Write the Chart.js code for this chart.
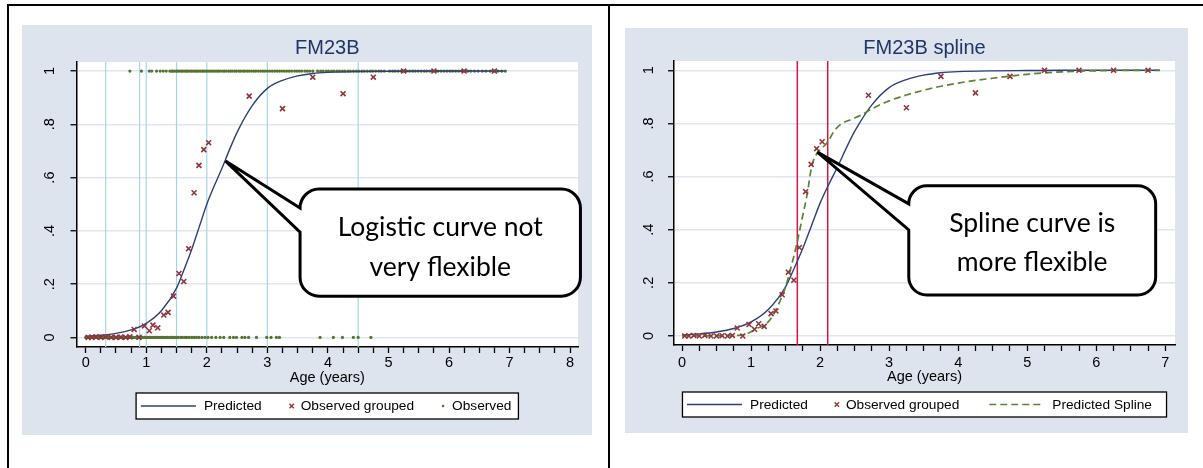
<!DOCTYPE html>
<html>
<head>
<meta charset="utf-8">
<script src="https://cdn.jsdelivr.net/npm/chart.js@4.4.1/dist/chart.umd.min.js"></script>
<style>
  html, body { margin: 0; padding: 0; background: #ffffff; width: 1203px; height: 468px; overflow: hidden; }
  .rule { position: absolute; background: #000000; }
  canvas { position: absolute; }
</style>
</head>
<body>
<div class="rule" style="left:7px;top:4px;width:1196px;height:2px"></div>
<div class="rule" style="left:7px;top:4px;width:2px;height:464px"></div>
<div class="rule" style="left:608px;top:4px;width:2px;height:464px"></div>
<canvas id="fm23b" width="570" height="410" style="left:22px;top:25px"></canvas>
<canvas id="fm23bSpline" width="563" height="405" style="left:625px;top:28px"></canvas>
<script>
// ---- data -------------------------------------------------------------
// Predicted probability from the logistic model, by age (years)
const predAges  = [0, 0.25, 0.5, 0.75, 1.0, 1.25, 1.5, 1.625, 1.75, 1.875, 2.0, 2.125, 2.25, 2.375, 2.5, 2.75, 3.0, 3.25, 3.5, 3.75, 4.0, 4.5, 5.0, 5.5, 6.0, 6.5, 6.92];
const predProbs = [0.004, 0.008, 0.015, 0.028, 0.053, 0.10, 0.185, 0.255, 0.33, 0.415, 0.50, 0.57, 0.635, 0.705, 0.77, 0.87, 0.935, 0.965, 0.982, 0.991, 0.995, 0.998, 0.999, 1.0, 1.0, 1.0, 1.0];

// Predicted probability from the spline model
const splineAges  = [0, 0.3, 0.6, 0.8, 0.9, 1.0, 1.1, 1.2, 1.3, 1.4, 1.5, 1.6, 1.67, 1.74, 1.81, 1.88, 1.95, 2.02, 2.11, 2.2, 2.3, 2.45, 2.6, 2.75, 3.0, 3.25, 3.5, 3.75, 4.0, 4.25, 4.5, 4.75, 5.0, 5.25, 5.5, 5.75, 6.0, 6.5, 6.92];
const splineProbs = [0, 0, 0.001, 0.002, 0.005, 0.016, 0.03, 0.042, 0.07, 0.12, 0.185, 0.28, 0.355, 0.443, 0.53, 0.64, 0.685, 0.705, 0.73, 0.77, 0.797, 0.815, 0.832, 0.855, 0.885, 0.907, 0.925, 0.94, 0.952, 0.962, 0.97, 0.978, 0.985, 0.99, 0.994, 0.997, 0.998, 1.0, 1.0];

// Observed proportion within age groups
const groupedAges   = [0.04, 0.10, 0.17, 0.25, 0.33, 0.42, 0.50, 0.58, 0.66, 0.73, 0.80, 0.88, 0.97, 1.05, 1.11, 1.19, 1.29, 1.36, 1.45, 1.54, 1.62, 1.70, 1.79, 1.87, 1.95, 2.03, 2.70, 3.25, 3.75, 4.25, 4.75, 5.25, 5.75, 6.25, 6.75];
const groupedShares = [0, 0, 0.002, 0, 0.002, 0, 0, 0.001, 0, 0.002, 0.030, 0, 0.043, 0.025, 0.046, 0.036, 0.084, 0.094, 0.155, 0.240, 0.210, 0.333, 0.543, 0.646, 0.705, 0.731, 0.906, 0.859, 0.977, 0.915, 0.977, 1, 1, 1, 1];

// Individual observations: ages with outcome 0 and with outcome 1
const obsAgesZero = [0.00, 0.02, 0.04, 0.06, 0.08, 0.10, 0.12, 0.14, 0.16, 0.18, 0.20, 0.22, 0.24, 0.26, 0.28, 0.30, 0.33, 0.35, 0.37, 0.39, 0.41, 0.44, 0.46, 0.48, 0.50, 0.53, 0.55, 0.57, 0.60, 0.62, 0.64, 0.67, 0.69, 0.72, 0.74, 0.77, 0.79, 0.82, 0.84, 0.87, 0.89, 0.92, 0.94, 0.97, 0.99, 1.02, 1.05, 1.07, 1.10, 1.13, 1.15, 1.18, 1.21, 1.24, 1.26, 1.29, 1.32, 1.35, 1.38, 1.41, 1.44, 1.47, 1.50, 1.53, 1.57, 1.60, 1.64, 1.67, 1.71, 1.75, 1.79, 1.83, 1.87, 1.92, 1.97, 2.02, 2.08, 2.15, 2.22, 2.28, 2.38, 2.44, 2.49, 2.58, 2.63, 2.69, 2.82, 2.99, 3.06, 3.15, 3.20, 3.87, 4.09, 4.24, 4.42, 4.50, 4.71];
const obsAgesOne  = [0.73, 0.92, 1.05, 1.09, 1.17, 1.23, 1.28, 1.33, 1.39, 1.42, 1.44, 1.47, 1.50, 1.52, 1.55, 1.58, 1.60, 1.63, 1.66, 1.68, 1.71, 1.74, 1.76, 1.79, 1.82, 1.84, 1.87, 1.90, 1.93, 1.95, 1.98, 2.01, 2.04, 2.07, 2.10, 2.13, 2.16, 2.19, 2.22, 2.26, 2.29, 2.32, 2.36, 2.39, 2.42, 2.46, 2.49, 2.53, 2.56, 2.60, 2.63, 2.67, 2.70, 2.74, 2.78, 2.81, 2.85, 2.89, 2.93, 2.96, 3.00, 3.04, 3.08, 3.12, 3.16, 3.20, 3.24, 3.28, 3.32, 3.36, 3.40, 3.45, 3.49, 3.53, 3.57, 3.62, 3.66, 3.70, 3.75, 3.83, 3.88, 3.92, 3.97, 4.01, 4.06, 4.10, 4.15, 4.19, 4.24, 4.28, 4.33, 4.37, 4.42, 4.47, 4.51, 4.56, 4.60, 4.65, 4.70, 4.74, 4.79, 4.84, 4.88, 4.93, 5.02, 5.07, 5.11, 5.16, 5.21, 5.25, 5.30, 5.35, 5.40, 5.44, 5.49, 5.54, 5.59, 5.63, 5.68, 5.73, 5.78, 5.82, 5.87, 5.92, 5.97, 6.02, 6.06, 6.11, 6.16, 6.21, 6.26, 6.31, 6.36, 6.42, 6.48, 6.55, 6.61, 6.68, 6.74, 6.81, 6.87, 6.93];

// Reference lines: age-group cut points and spline knots
const groupCutAges = [0.33, 0.89, 1.0, 1.5, 2.0, 3.0, 4.5];
const splineKnots  = [1.67, 2.11];

// Tick labels
const probTickValues = [0, 0.2, 0.4, 0.6, 0.8, 1];
const probTickLabels = ['0', '.2', '.4', '.6', '.8', '1'];
const ageLabelsLogistic = ['0', '1', '2', '3', '4', '5', '6', '7', '8'];
const ageLabelsSpline   = ['0', '1', '2', '3', '4', '5', '6', '7'];

// ---- styling ---------------------------------------------------------
const SANS = '"Liberation Sans", Arial, sans-serif';
const NOTE_FONT = 'Lato, "Open Sans", sans-serif';
const NAVY = '#2e3f78';
const MAROON = '#90353b';
const FOREST = '#55752f';
const SPLINE_GREEN = '#5e8236';
const GRID = '#dfe6ef';
const REGION = '#dee4ee';

const pts = (xs, ys) => xs.map((x, i) => ({ x: x, y: ys[i] }));

// ---- plugins ----------------------------------------------------------
const panelBackdrop = {
  id: 'panelBackdrop',
  beforeDraw(chart) {
    const { ctx, width, height, chartArea: a } = chart;
    ctx.save();
    ctx.fillStyle = REGION;
    ctx.fillRect(0, 0, width, height);
    ctx.fillStyle = '#ffffff';
    ctx.fillRect(a.left, a.top, a.right - a.left, a.bottom - a.top);
    ctx.restore();
  }
};

const ageRefLines = {
  id: 'ageRefLines',
  beforeDatasetsDraw(chart, args, o) {
    if (!o.ages) return;
    const { ctx, chartArea: a } = chart;
    const xs = chart.scales.x;
    ctx.save();
    ctx.strokeStyle = o.color;
    ctx.lineWidth = o.width;
    o.ages.forEach(age => {
      const px = xs.getPixelForValue(age);
      ctx.beginPath();
      ctx.moveTo(px, a.top);
      ctx.lineTo(px, a.bottom);
      ctx.stroke();
    });
    ctx.restore();
  }
};

const calloutNote = {
  id: 'calloutNote',
  afterDraw(chart, args, o) {
    if (!o.lines) return;
    const { ctx } = chart;
    const xs = chart.scales.x, ys = chart.scales.y;
    const L = xs.getPixelForValue(o.box[0]), R = xs.getPixelForValue(o.box[1]);
    const T = ys.getPixelForValue(o.box[2]), B = ys.getPixelForValue(o.box[3]);
    const tx = xs.getPixelForValue(o.tip[0]), ty = ys.getPixelForValue(o.tip[1]);
    const w1 = ys.getPixelForValue(o.wedge[0]), w2 = ys.getPixelForValue(o.wedge[1]);
    const r = o.radius;
    ctx.save();
    ctx.beginPath();
    ctx.moveTo(L + r, T);
    ctx.lineTo(R - r, T);
    ctx.arcTo(R, T, R, T + r, r);
    ctx.lineTo(R, B - r);
    ctx.arcTo(R, B, R - r, B, r);
    ctx.lineTo(L + r, B);
    ctx.arcTo(L, B, L, B - r, r);
    ctx.lineTo(L, w2);
    ctx.lineTo(tx, ty);
    ctx.lineTo(L, w1);
    ctx.lineTo(L, T + r);
    ctx.arcTo(L, T, L + r, T, r);
    ctx.closePath();
    ctx.fillStyle = '#ffffff';
    ctx.fill();
    ctx.lineWidth = 3;
    ctx.lineJoin = 'miter';
    ctx.miterLimit = 4;
    ctx.strokeStyle = '#000000';
    ctx.stroke();
    ctx.fillStyle = '#000000';
    ctx.font = o.fontSize + 'px ' + NOTE_FONT;
    ctx.textAlign = 'center';
    ctx.textBaseline = 'middle';
    const cx = (L + R) / 2;
    o.lines.forEach((line, i) => ctx.fillText(line, cx, ys.getPixelForValue(o.lineY[i])));
    ctx.restore();
  }
};

const keyLegend = {
  id: 'keyLegend',
  afterDraw(chart, args, o) {
    if (!o.items) return;
    const { ctx, chartArea: a } = chart;
    ctx.save();
    ctx.font = o.fontSize + 'px ' + SANS;
    const parts = o.items.map((it, i) => {
      const ds = chart.data.datasets[it.dataset];
      const lineKey = it.kind === 'line' || it.kind === 'dash';
      return {
        it, ds,
        gapBefore: i === 0 ? 0 : it.gap,
        keyW: lineKey ? 55 : 10,
        textGap: lineKey ? 8 : 4,
        textW: ctx.measureText(ds.label).width
      };
    });
    let total = o.padLeft + o.padRight;
    parts.forEach(p => { total += p.gapBefore + p.keyW + p.textGap + p.textW; });
    const cxArea = (a.left + a.right) / 2;
    const left = cxArea - total / 2;
    const top = a.bottom + o.offset;
    const cy = top + o.height / 2;
    ctx.fillStyle = '#ffffff';
    ctx.fillRect(left, top, total, o.height);
    ctx.strokeStyle = '#000000';
    ctx.lineWidth = 1.3;
    ctx.strokeRect(left, top, total, o.height);
    let x = left + o.padLeft;
    parts.forEach(p => {
      x += p.gapBefore;
      const ds = p.ds;
      if (p.it.kind === 'line' || p.it.kind === 'dash') {
        ctx.save();
        ctx.strokeStyle = ds.borderColor;
        ctx.lineWidth = ds.borderWidth;
        ctx.setLineDash(p.it.kind === 'dash' ? ds.borderDash : []);
        ctx.beginPath();
        ctx.moveTo(x, cy);
        ctx.lineTo(x + p.keyW, cy);
        ctx.stroke();
        ctx.restore();
      } else if (p.it.kind === 'marker') {
        const mx = x + p.keyW / 2, h = 2.2;
        ctx.save();
        ctx.strokeStyle = ds.borderColor;
        ctx.lineWidth = 1.4;
        ctx.beginPath();
        ctx.moveTo(mx - h, cy - h); ctx.lineTo(mx + h, cy + h);
        ctx.moveTo(mx - h, cy + h); ctx.lineTo(mx + h, cy - h);
        ctx.stroke();
        ctx.restore();
      } else {
        ctx.save();
        ctx.fillStyle = ds.backgroundColor;
        ctx.beginPath();
        ctx.arc(x + p.keyW / 2, cy, 1.3, 0, Math.PI * 2);
        ctx.fill();
        ctx.restore();
      }
      x += p.keyW + p.textGap;
      ctx.fillStyle = '#000000';
      ctx.textAlign = 'left';
      ctx.textBaseline = 'middle';
      ctx.fillText(ds.label, x, cy + 0.5);
      x += p.textW;
    });
    ctx.restore();
  }
};

// ---- shared options ---------------------------------------------------
function quarterTicks(maxAge) {
  const t = [];
  for (let q = 0; q <= maxAge * 4; q++) t.push({ value: q / 4 });
  return t;
}

function panelOptions(cfg) {
  return {
    responsive: false,
    animation: false,
    events: [],
    layout: { padding: { top: 0, left: 0, right: cfg.padRight, bottom: cfg.padBottom } },
    scales: {
      x: {
        type: 'linear',
        min: cfg.xMin,
        max: cfg.xMax,
        afterBuildTicks: s => { s.ticks = quarterTicks(cfg.ageLabels.length - 1); },
        afterFit: s => { s.height = cfg.xAxisHeight; },
        ticks: {
          autoSkip: false, maxRotation: 0, minRotation: 0,
          padding: cfg.xTickPad, color: '#000000',
          font: { family: SANS, size: 14.5 },
          callback: v => (Number.isInteger(v) ? cfg.ageLabels[v] : '')
        },
        grid: { drawOnChartArea: false, drawTicks: true, tickLength: 6, tickColor: '#000000', tickWidth: 1.3 },
        border: { display: true, color: '#000000', width: 1.5 },
        title: { display: true, text: 'Age (years)', color: '#000000', font: { family: SANS, size: 14.5 }, padding: { top: 0, bottom: 0 } }
      },
      y: {
        type: 'linear',
        min: cfg.yMin,
        max: cfg.yMax,
        afterBuildTicks: s => { s.ticks = probTickValues.map(v => ({ value: v })); },
        afterFit: s => { s.width = cfg.yAxisWidth; },
        ticks: {
          minRotation: 90, maxRotation: 90, crossAlign: 'center',
          padding: cfg.yTickPad, color: '#000000',
          font: { family: SANS, size: 14.5 },
          callback: (v, i) => probTickLabels[i]
        },
        grid: { color: GRID, lineWidth: 1.5, drawTicks: true, tickLength: 6, tickColor: '#000000', tickWidth: 1.3 },
        border: { display: true, color: '#000000', width: 1.5 }
      }
    },
    plugins: {
      legend: { display: false },
      tooltip: { enabled: false },
      title: {
        display: true, text: cfg.title, fullSize: false, color: '#1f3566',
        font: { family: SANS, size: 20, weight: 'normal' },
        padding: { top: cfg.titleTop, bottom: cfg.titleBottom }
      },
      ageRefLines: cfg.refLines,
      calloutNote: cfg.callout,
      keyLegend: cfg.legend
    }
  };
}

const plugins = [panelBackdrop, ageRefLines, calloutNote, keyLegend];

// ---- left panel: logistic fit -----------------------------------------
new Chart(document.getElementById('fm23b'), {
  type: 'scatter',
  data: {
    datasets: [
      { label: 'Observed grouped', data: pts(groupedAges, groupedShares), pointStyle: 'crossRot', pointRadius: 3.5, borderColor: MAROON, backgroundColor: MAROON, borderWidth: 1.6 },
      { label: 'Predicted', data: pts(predAges, predProbs), showLine: true, pointRadius: 0, borderColor: NAVY, borderWidth: 1.4, cubicInterpolationMode: 'monotone' },
      { label: 'Observed', data: obsAgesZero.map(a => ({ x: a, y: 0 })).concat(obsAgesOne.map(a => ({ x: a, y: 1 }))), pointStyle: 'circle', pointRadius: 1.6, backgroundColor: FOREST, borderWidth: 0 }
    ]
  },
  options: panelOptions({
    title: 'FM23B', ageLabels: ageLabelsLogistic,
    xMin: -0.152, xMax: 8.13, yMin: -0.036, yMax: 1.034,
    padRight: 14, padBottom: 48.3, xAxisHeight: 39.7, yAxisWidth: 54.5,
    xTickPad: 1.3, yTickPad: 14, titleTop: 11.3, titleBottom: 1.7,
    refLines: { ages: groupCutAges, color: '#a6d6e6', width: 1.2 },
    callout: {
      tip: [2.31, 0.662], box: [3.54, 8.17, 0.557, 0.155], wedge: [0.4855, 0.395],
      radius: 19, fontSize: 26.5,
      lines: ['Logistic curve not', 'very flexible'], lineY: [0.414, 0.264]
    },
    legend: {
      offset: 46, height: 26, fontSize: 13.7, padLeft: 4.8, padRight: 7,
      items: [
        { dataset: 1, kind: 'line' },
        { dataset: 0, kind: 'marker', gap: 25 },
        { dataset: 2, kind: 'dot', gap: 24 }
      ]
    }
  }),
  plugins: plugins
});

// ---- right panel: spline fit ------------------------------------------
new Chart(document.getElementById('fm23bSpline'), {
  type: 'scatter',
  data: {
    datasets: [
      { label: 'Observed grouped', data: pts(groupedAges, groupedShares), pointStyle: 'crossRot', pointRadius: 3.5, borderColor: MAROON, backgroundColor: MAROON, borderWidth: 1.6 },
      { label: 'Predicted Spline', data: pts(splineAges, splineProbs), showLine: true, pointRadius: 0, borderColor: SPLINE_GREEN, borderWidth: 1.7, borderDash: [7, 4], cubicInterpolationMode: 'monotone' },
      { label: 'Predicted', data: pts(predAges, predProbs), showLine: true, pointRadius: 0, borderColor: NAVY, borderWidth: 1.4, cubicInterpolationMode: 'monotone' }
    ]
  },
  options: panelOptions({
    title: 'FM23B spline', ageLabels: ageLabelsSpline,
    xMin: -0.116, xMax: 7.14, yMin: -0.034, yMax: 1.035,
    padRight: 13, padBottom: 47.6, xAxisHeight: 40.4, yAxisWidth: 49,
    xTickPad: 3, yTickPad: 13, titleTop: 8.3, titleBottom: 0.7,
    refLines: { ages: splineKnots, color: '#d01840', width: 1.5 },
    callout: {
      tip: [1.96, 0.692], box: [3.284, 6.86, 0.565, 0.154], wedge: [0.497, 0.399],
      radius: 18, fontSize: 26.5,
      lines: ['Spline curve is', 'more flexible'], lineY: [0.425, 0.275]
    },
    legend: {
      offset: 47, height: 25, fontSize: 13.7, padLeft: 4.6, padRight: 14.6,
      items: [
        { dataset: 2, kind: 'line' },
        { dataset: 0, kind: 'marker', gap: 24 },
        { dataset: 1, kind: 'dash', gap: 30 }
      ]
    }
  }),
  plugins: plugins
});
</script>
</body>
</html>
